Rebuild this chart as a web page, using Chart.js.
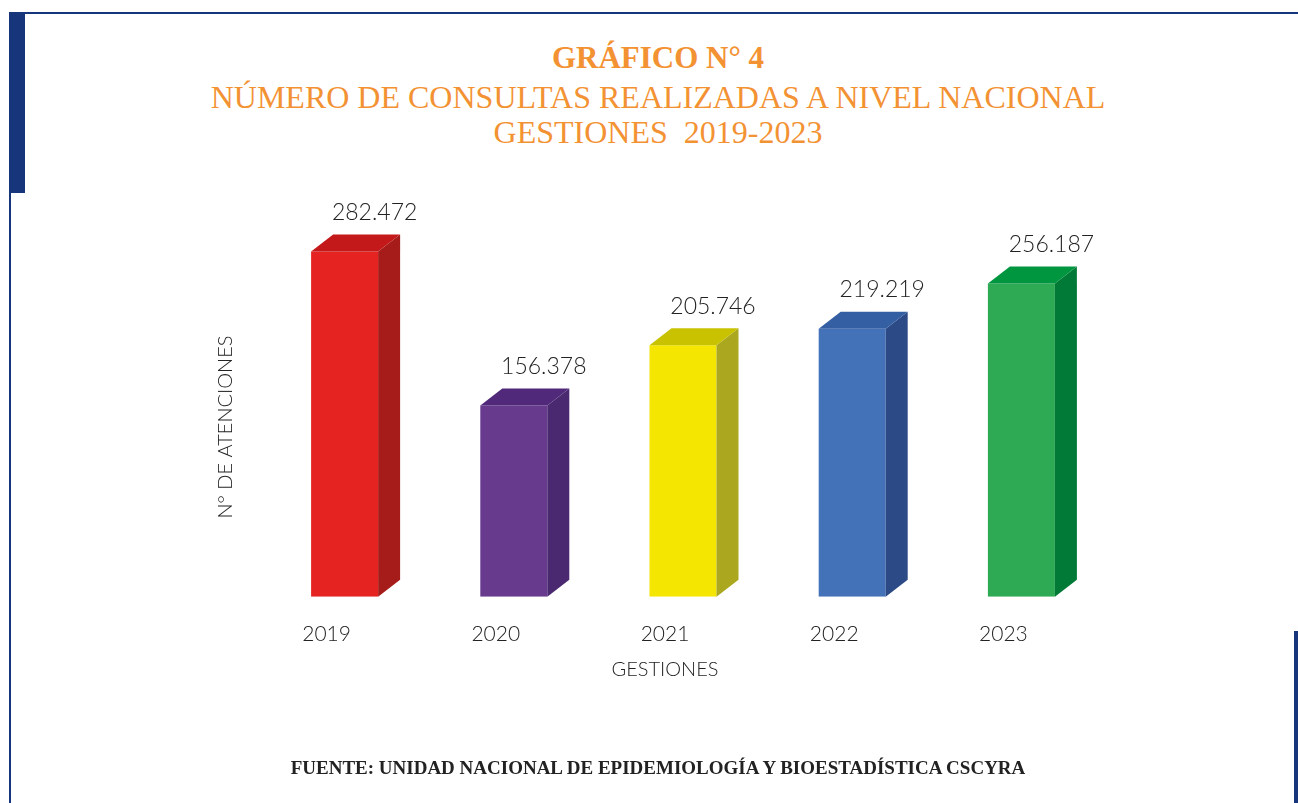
<!DOCTYPE html>
<html lang="es">
<head>
<meta charset="UTF-8" />
<title>Gráfico N° 4</title>
<script src="https://cdn.jsdelivr.net/npm/chart.js"></script>
<style>
    html, body { margin: 0; padding: 0; background: #fff; }
    body { width: 1298px; height: 803px; position: relative; overflow: hidden; }
    .frame-top { position: absolute; left: 9px; top: 12px; width: 1289px; height: 2px; background: #17357a; }
    .frame-left { position: absolute; left: 9px; top: 12px; width: 16px; height: 181px; background: #17357a; }
    .frame-left-thin { position: absolute; left: 9px; top: 193px; width: 2px; height: 610px; background: #17357a; }
    .frame-right { position: absolute; left: 1294px; top: 631px; width: 4px; height: 172px; background: #17357a; }
    .title { position: absolute; left: 0; width: 1316px; text-align: center; color: #f39233;
             font-family: "Liberation Serif", serif; font-size: 32px; line-height: 36px; white-space: nowrap; }
    .t1 { top: 40px; font-weight: bold; font-size: 31px; }
    .t2 { top: 79px; }
    .t3 { top: 114px; }
    .source { position: absolute; left: 0; width: 1316px; top: 757px; text-align: center; color: #222;
              font-family: "Liberation Serif", serif; font-size: 19px; font-weight: bold; white-space: nowrap; }
    #wrap { position: absolute; left: 0; top: 0; width: 1298px; height: 803px; }
</style>
</head>
<body>
    <div class="frame-top"></div>
    <div class="frame-left"></div>
    <div class="frame-left-thin"></div>
    <div class="frame-right"></div>

    <div class="title t1">GRÁFICO N° 4</div>
    <div class="title t2">NÚMERO DE CONSULTAS REALIZADAS A NIVEL NACIONAL</div>
    <div class="title t3">GESTIONES&nbsp; 2019-2023</div>

    <div id="wrap"><canvas id="consultasChart"></canvas></div>

    <div class="source">FUENTE: UNIDAD NACIONAL DE EPIDEMIOLOGÍA Y BIOESTADÍSTICA CSCYRA</div>

<script>
    const years = ['2019', '2020', '2021', '2022', '2023'];
    const consultas = [282472, 156378, 205746, 219219, 256187];
    const valueLabels = ['282.472', '156.378', '205.746', '219.219', '256.187'];

    const frontColors = ['#e52421', '#673a8e', '#f4e600', '#4472b9', '#2daa53'];
    const sideColors = ['#a51c1a', '#4b2970', '#aba81f', '#2c4a86', '#007a36'];
    const topColors = ['#c4191b', '#51297b', '#c8c200', '#355fa3', '#00963f'];

    const labelFont = '300 23px Lato';

    // draws the 3d faces, value labels and axis titles
    const bars3d = {
        id: 'bars3d',
        afterDatasetsDraw(chart) {
            const c = chart.ctx;
            const meta = chart.getDatasetMeta(0);
            const dx = 22, dy = -17;
            meta.data.forEach((bar, i) => {
                const left = bar.x - bar.width / 2;
                const right = bar.x + bar.width / 2;
                const top = bar.y;
                const base = bar.base;

                c.save();
                c.fillStyle = sideColors[i];
                c.beginPath();
                c.moveTo(right, top);
                c.lineTo(right + dx, top + dy);
                c.lineTo(right + dx, base + dy);
                c.lineTo(right, base);
                c.closePath();
                c.fill();

                c.fillStyle = topColors[i];
                c.beginPath();
                c.moveTo(left, top);
                c.lineTo(left + dx, top + dy);
                c.lineTo(right + dx, top + dy);
                c.lineTo(right, top);
                c.closePath();
                c.fill();

                c.fillStyle = '#222';
                c.font = labelFont;
                c.textAlign = 'center';
                c.textBaseline = 'middle';
                c.fillText(valueLabels[i], bar.x + 30, top - 39);
                c.restore();
            });

            // axis titles
            c.save();
            c.fillStyle = '#222';
            c.font = '300 20px Lato';
            c.textAlign = 'center';
            c.textBaseline = 'middle';
            c.fillText('GESTIONES', 665, 670);
            c.translate(226, 427);
            c.rotate(-Math.PI / 2);
            c.fillText('N° DE ATENCIONES', 0, 0);
            c.restore();
        }
    };

    const ctx = document.getElementById('consultasChart').getContext('2d');

    new Chart(ctx, {
        type: 'bar',
        data: {
            labels: years,
            datasets: [{
                label: 'Consultas',
                data: consultas,
                backgroundColor: frontColors,
                borderWidth: 0,
                barPercentage: 0.396,
                categoryPercentage: 1
            }]
        },
        options: {
            responsive: true,
            maintainAspectRatio: false,
            animation: false,
            layout: {
                padding: { left: 260, right: 192, top: 230, bottom: 131 }
            },
            plugins: {
                legend: { display: false },
                tooltip: { enabled: false }
            },
            scales: {
                y: {
                    display: false,
                    min: 0,
                    max: 300000
                },
                x: {
                    grid: { display: false, drawTicks: false },
                    border: { display: false },
                    ticks: {
                        color: '#222',
                        padding: 25,
                        labelOffset: -18,
                        font: { family: 'Lato', weight: '300', size: 21 }
                    }
                }
            }
        },
        plugins: [bars3d]
    });
</script>
</body>
</html>
